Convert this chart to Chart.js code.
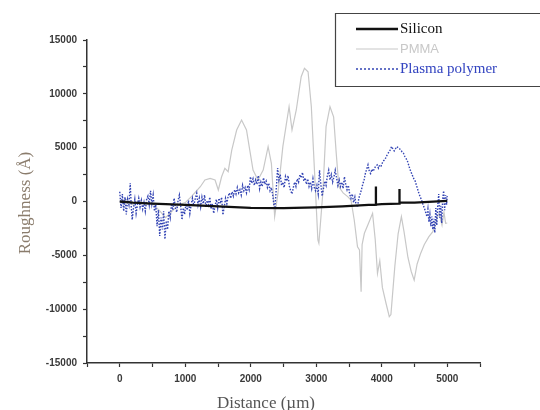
<!DOCTYPE html>
<html>
<head>
<meta charset="utf-8">
<script src="https://cdn.jsdelivr.net/npm/chart.js@4.4.1/dist/chart.umd.min.js"></script>
<style>
html,body{margin:0;padding:0;background:#ffffff;}
#wrap{width:540px;height:410px;position:relative;}
</style>
</head>
<body>
<div id="wrap"><canvas id="c" width="540" height="410"></canvas></div>
<script>
// ---- Data ----
const seriesNames = ["Silicon", "PMMA", "Plasma polymer"];
const xTickLabels = ["0", "1000", "2000", "3000", "4000", "5000"];
const yTickLabels = ["-15000", "-10000", "-5000", "0", "5000", "10000", "15000"];
const xTitle = "Distance (\u00b5m)";
const yTitle = "Roughness (\u00c5)";

// [distance (um), roughness (A)]
const siliconPoints = [[0,0],[200,-100],[500,-200],[1000,-320],[1500,-450],[2000,-600],[2500,-620],[3000,-550],[3400,-450],[3800,-320],[3908,-300],[3910,1400],[3912,-290],[4000,-250],[4268,-200],[4270,1150],[4272,-110],[4500,-100],[5000,50]];

const pmmaPoints = [[0,0],[100,200],[200,-300],[300,100],[400,-300],[500,-200],[600,-800],[700,-1500],[800,-900],[900,-300],[1000,-100],[1100,500],[1230,1370],[1300,2000],[1380,2150],[1455,2000],[1505,1070],[1555,2300],[1605,3080],[1655,2770],[1710,4780],[1785,6640],[1860,7570],[1935,6640],[1985,4780],[2035,2920],[2110,2000],[2190,2920],[2265,5090],[2315,3550],[2365,-1400],[2415,760],[2490,5090],[2585,8800],[2630,6640],[2695,8500],[2770,11590],[2820,12370],[2875,12050],[2925,8800],[2975,2620],[3025,-3570],[3040,-3880],[3100,760],[3150,6950],[3210,8800],[3265,7870],[3305,4480],[3345,1370],[3410,800],[3480,450],[3530,140],[3580,-1720],[3630,-4200],[3660,-4500],[3685,-8370],[3700,-4000],[3735,-2950],[3800,-2000],[3860,-1100],[3900,-3500],[3935,-6670],[3970,-5500],[4010,-8000],[4065,-9450],[4115,-10700],[4140,-10500],[4160,-9000],[4200,-6000],[4250,-3000],[4300,-1400],[4340,-2800],[4400,-5200],[4450,-6500],[4495,-7300],[4540,-5800],[4595,-4800],[4650,-4000],[4720,-3270],[4780,-2800],[4830,-1800],[4875,-1070],[4920,-2200],[4950,-1000],[4975,-2030],[5000,-2000]];

const plasmaPoints = [[0,900],[20,-600],[40,700],[60,-900],[80,400],[100,-1200],[120,200],[140,-300],[160,1700],[175,-400],[190,-1700],[210,-600],[230,200],[250,-1100],[270,-300],[290,300],[310,-500],[330,100],[350,-700],[370,-100],[390,-900],[410,200],[430,500],[450,-300],[470,1000],[490,-200],[510,600],[530,-900],[550,-300],[570,-2300],[590,-800],[610,-3200],[630,-1500],[650,-2600],[670,-900],[690,-3500],[710,-1800],[730,-2600],[750,-900],[770,-1500],[790,-200],[810,-800],[830,300],[850,-600],[870,-1000],[890,100],[910,600],[930,-400],[950,-1700],[970,-600],[990,-1200],[1010,-200],[1030,-800],[1050,100],[1070,-1100],[1090,-300],[1110,300],[1130,-400],[1150,200],[1175,760],[1195,-300],[1215,300],[1235,-500],[1255,400],[1275,-200],[1295,600],[1315,-500],[1335,100],[1355,-300],[1375,400],[1395,-700],[1415,-200],[1435,-1100],[1455,-400],[1475,200],[1495,-600],[1515,300],[1535,-200],[1555,400],[1575,-1250],[1595,-500],[1615,300],[1635,-200],[1655,500],[1675,800],[1695,300],[1715,900],[1735,500],[1755,1100],[1775,700],[1795,1300],[1815,800],[1835,1100],[1855,600],[1875,1500],[1895,1000],[1915,1300],[1935,800],[1955,1500],[1975,1100],[1995,2300],[2015,1700],[2035,2100],[2055,1500],[2075,2000],[2095,1600],[2115,2400],[2135,1200],[2155,1800],[2175,1400],[2195,2200],[2215,1600],[2235,1900],[2255,1300],[2275,1700],[2295,1000],[2315,1300],[2335,600],[2355,-400],[2370,-500],[2390,1200],[2410,3100],[2430,2000],[2450,2500],[2470,1500],[2490,1800],[2510,1300],[2530,2300],[2550,1900],[2570,2400],[2590,1400],[2610,1000],[2630,700],[2650,1300],[2670,1800],[2690,1400],[2710,2100],[2730,1800],[2750,2500],[2770,2200],[2790,2700],[2810,1900],[2830,2200],[2850,1600],[2870,2100],[2890,1400],[2910,1800],[2930,1200],[2950,2100],[2970,1300],[2990,1000],[3010,1500],[3030,700],[3050,2900],[3070,1600],[3090,500],[3110,1200],[3130,1900],[3150,1500],[3170,2400],[3190,2900],[3210,2000],[3230,2500],[3250,1800],[3270,2300],[3290,2900],[3310,2200],[3330,1500],[3350,2000],[3370,1400],[3390,1800],[3410,1200],[3430,2300],[3450,1600],[3470,1100],[3490,1500],[3510,700],[3530,300],[3550,700],[3570,-100],[3590,400],[3610,-400],[3630,-500],[3650,300],[3670,700],[3690,1100],[3710,1600],[3730,2000],[3750,2600],[3770,3000],[3790,3400],[3810,2800],[3830,2600],[3850,3000],[3870,2800],[3890,3100],[3910,3300],[3930,3400],[3950,3100],[3970,3400],[3990,3300],[4010,3600],[4030,3800],[4050,3900],[4070,4200],[4090,4400],[4110,4600],[4130,4800],[4150,5100],[4170,4900],[4190,4700],[4210,4900],[4230,5100],[4250,5000],[4270,4900],[4290,4800],[4310,4600],[4330,4500],[4350,4200],[4370,4000],[4390,3800],[4410,3400],[4430,3000],[4450,2700],[4470,2400],[4490,2100],[4510,1900],[4530,1500],[4550,1100],[4570,700],[4590,400],[4610,100],[4630,-300],[4650,-600],[4670,-1000],[4690,-1400],[4705,-700],[4720,-1900],[4735,-1200],[4750,-2300],[4765,-1400],[4780,-2600],[4795,-1600],[4810,-2900],[4825,-600],[4840,-2200],[4855,-300],[4870,700],[4885,-1500],[4900,-400],[4915,-2000],[4930,200],[4945,1000],[4960,-800],[4975,600],[4990,-300],[5000,500]];

const colors = { silicon: "#111111", pmma: "#c8c8c8", plasma: "#3344b4", axis: "#333333" };

function pts(arr){ return arr.map(p=>({x:p[0], y:p[1]})); }

const overlay = {
  id: "overlay",
  afterDraw(chart){
    const ctx = chart.ctx;
    ctx.save();
    ctx.fillStyle = "#555555";
    ctx.font = "17px 'Liberation Serif'";
    ctx.textAlign = "center";
    ctx.textBaseline = "middle";
    ctx.fillText(xTitle, 266, 404);
    ctx.save();
    ctx.translate(26, 203);
    ctx.rotate(-Math.PI/2);
    ctx.fillStyle = "#8a7c6c";
    ctx.font = "17px 'Liberation Serif'";
    ctx.fillText(yTitle, 0, 0);
    ctx.restore();
    // legend box: its right side runs off the picture, so only top, left and bottom edges
    ctx.fillStyle = "#ffffff";
    ctx.fillRect(335, 13, 205, 73);
    ctx.strokeStyle = "#444444";
    ctx.lineWidth = 1.2;
    ctx.beginPath();
    ctx.moveTo(540, 13.5);
    ctx.lineTo(335.5, 13.5);
    ctx.lineTo(335.5, 86.5);
    ctx.lineTo(540, 86.5);
    ctx.stroke();
    const rows = [
      {name: seriesNames[0], y: 29, color: colors.silicon, w: 2.5, dash: [], font: "15px 'Liberation Serif'", tc: "#111111"},
      {name: seriesNames[1], y: 49, color: colors.pmma, w: 1.2, dash: [], font: "13px 'Liberation Sans'", tc: "#c8c8c8"},
      {name: seriesNames[2], y: 69, color: colors.plasma, w: 1.5, dash: [2,2], font: "15px 'Liberation Serif'", tc: "#3344c0"}
    ];
    rows.forEach(r=>{
      ctx.beginPath();
      ctx.setLineDash(r.dash);
      ctx.strokeStyle = r.color;
      ctx.lineWidth = r.w;
      ctx.moveTo(356, r.y);
      ctx.lineTo(398, r.y);
      ctx.stroke();
      ctx.setLineDash([]);
      ctx.fillStyle = r.tc;
      ctx.font = r.font;
      ctx.textAlign = "left";
      ctx.textBaseline = "middle";
      ctx.fillText(r.name, 400, r.y);
    });
    ctx.restore();
  }
};

new Chart(document.getElementById("c"), {
  type: "line",
  data: {
    datasets: [
      {label: seriesNames[0], data: pts(siliconPoints), borderColor: colors.silicon, borderWidth: 2.3, pointRadius: 0, tension: 0, order: 0},
      {label: seriesNames[2], data: pts(plasmaPoints), borderColor: colors.plasma, borderWidth: 1.4, borderDash: [1.5,1.5], pointRadius: 0, tension: 0, order: 1},
      {label: seriesNames[1], data: pts(pmmaPoints), borderColor: colors.pmma, borderWidth: 1.2, pointRadius: 0, tension: 0, order: 2}
    ]
  },
  options: {
    responsive: false,
    animation: false,
    layout: { padding: { left: 0, top: 40, right: 60, bottom: 0 } },
    plugins: { legend: { display: false }, tooltip: { enabled: false } },
    scales: {
      x: {
        type: "linear", min: -500, max: 5500,
        afterFit: s => { s.height = 47; },
        afterBuildTicks: s => { const t=[]; for(let v=-500; v<=5500; v+=500) t.push({value:v}); s.ticks = t; },
        ticks: {
          autoSkip: false, maxRotation: 0, padding: 6,
          color: "#3a3a3a", font: {family: "'Liberation Sans'", size: 10, weight: "bold"},
          callback: v => { const s = String(v); return xTickLabels.includes(s) ? s : ""; }
        },
        grid: { drawOnChartArea: false, drawTicks: true, tickLength: 4, tickColor: colors.axis, tickWidth: 1.2 },
        border: { display: true, color: colors.axis, width: 1.5 }
      },
      y: {
        type: "linear", min: -15000, max: 15000,
        afterFit: s => { s.width = 87; },
        afterBuildTicks: s => { const t=[]; for(let v=-15000; v<=15000; v+=2500) t.push({value:v}); s.ticks = t; },
        ticks: {
          autoSkip: false, padding: 6,
          color: "#3a3a3a", font: {family: "'Liberation Sans'", size: 10, weight: "bold"},
          callback: v => { const s = String(v); return yTickLabels.includes(s) ? s : ""; }
        },
        grid: { drawOnChartArea: false, drawTicks: true, tickLength: 4, tickColor: colors.axis, tickWidth: 1.2 },
        border: { display: true, color: colors.axis, width: 1.5 }
      }
    }
  },
  plugins: [overlay]
});
</script>
</body>
</html>
